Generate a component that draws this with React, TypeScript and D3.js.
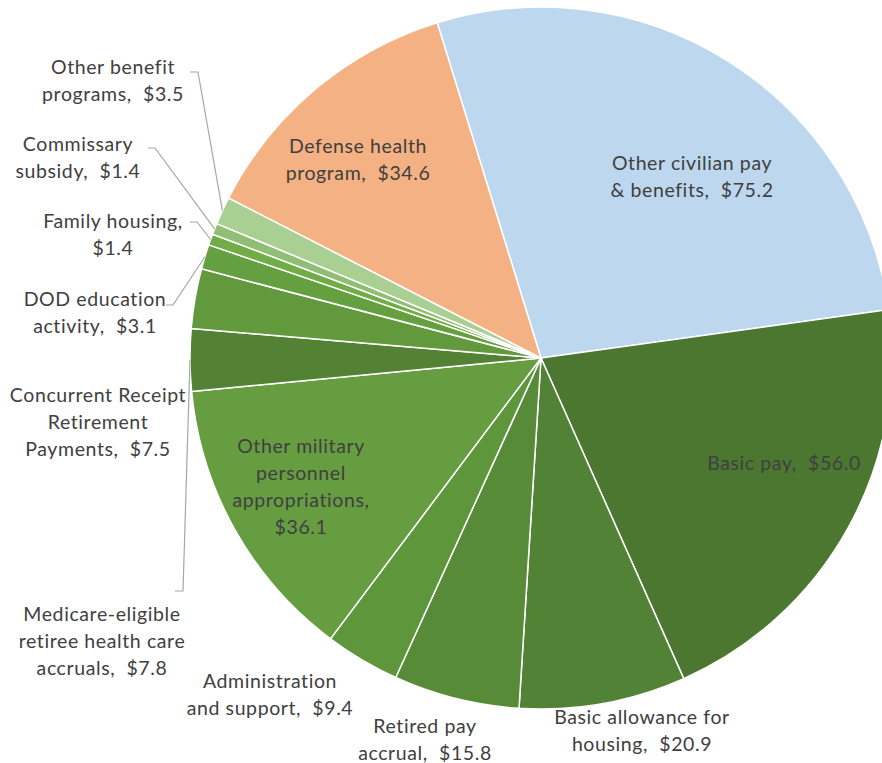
import React from "react";
import * as d3 from "d3";

const categories = [
  "Other civilian pay & benefits",
  "Basic pay",
  "Basic allowance for housing",
  "Retired pay accrual",
  "Administration and support",
  "Other military personnel appropriations",
  "Medicare-eligible retiree health care accruals",
  "Concurrent Receipt Retirement Payments",
  "DOD education activity",
  "Family housing",
  "Commissary subsidy",
  "Other benefit programs",
  "Defense health program",
];
const values = [75.2, 56.0, 20.9, 15.8, 9.4, 36.1, 7.8, 7.5, 3.1, 1.4, 1.4, 3.5, 34.6];
const colors = [
  "#BDD7EE", "#4B7730", "#528236", "#578B38", "#5E963B", "#659D40",
  "#548235", "#62993D", "#64A03F", "#70AD47", "#90BE74", "#A9CF92", "#F4B183",
];
// label line breaks
const labelLines = [
  ["Other civilian pay", "& benefits,  $75.2"],
  ["Basic pay,  $56.0"],
  ["Basic allowance for", "housing,  $20.9"],
  ["Retired pay", "accrual,  $15.8"],
  ["Administration", "and support,  $9.4"],
  ["Other military", "personnel", "appropriations,", "$36.1"],
  ["Medicare-eligible", "retiree health care", "accruals,  $7.8"],
  ["Concurrent Receipt", "Retirement", "Payments,  $7.5"],
  ["DOD education", "activity,  $3.1"],
  ["Family housing,", "$1.4"],
  ["Commissary", "subsidy,  $1.4"],
  ["Other benefit", "programs,  $3.5"],
  ["Defense health", "program,  $34.6"],
];

// layout (label anchor centers: x, first-line baseline) and leader elbows
const labelLayout: { x: number; y: number; elbow?: [number, number][] }[] = [
  { x: 692, y: 170 },
  { x: 784, y: 470 },
  { x: 642, y: 724 },
  { x: 425, y: 733 },
  { x: 270, y: 688 },
  { x: 301, y: 453 },
  { x: 102, y: 621, elbow: [[175, 591], [183, 591]] },
  { x: 98, y: 402 },
  { x: 95, y: 306, elbow: [[166, 305], [173, 305]] },
  { x: 113, y: 228, elbow: [[190, 222], [197, 222]] },
  { x: 78, y: 151, elbow: [[148, 148], [155, 148]] },
  { x: 113, y: 74, elbow: [[190, 72], [198, 72]] },
  { x: 358, y: 153 },
];

const W = 882, H = 763;
const cx = 541, cy = 358, R = 351;
const startAngle = (-17.2 * Math.PI) / 180;

export default function App() {
  const data = values.map((v, i) => ({ v, i }));
  const pie = d3
    .pie<{ v: number; i: number }>()
    .value((d) => d.v)
    .sort(null)
    .startAngle(startAngle)
    .endAngle(startAngle + 2 * Math.PI);
  const arcs = pie(data);
  const arc = d3.arc<d3.PieArcDatum<{ v: number; i: number }>>().innerRadius(0).outerRadius(R);
  const lineGen = d3.line();

  return (
    <svg width={W} height={H} style={{ position: "absolute", left: 0, top: 0 }}>
      <rect width={W} height={H} fill="#fff" />
      <g transform={`translate(${cx},${cy})`}>
        {arcs.map((a) => (
          <path key={a.data.i} d={arc(a) || ""} fill={colors[a.data.i]} stroke="#fff" strokeWidth={1.5} strokeLinejoin="round" />
        ))}
      </g>
      {arcs.map((a) => {
        const L = labelLayout[a.data.i];
        if (!L.elbow) return null;
        const mid = (a.startAngle + a.endAngle) / 2;
        const px = cx + R * Math.sin(mid);
        const py = cy - R * Math.cos(mid);
        const pts: [number, number][] = [...L.elbow, [px, py]];
        return <path key={"l" + a.data.i} d={lineGen(pts) || ""} fill="none" stroke="#A6A6A6" strokeWidth={1.2} />;
      })}
      {labelLines.map((lines, i) => {
        const L = labelLayout[i];
        return (
          <text key={"t" + i} x={L.x} y={L.y} textAnchor="middle" fontFamily="Lato, 'Open Sans', sans-serif" fontSize={19.5} letterSpacing={0.6} fill="#404040">
            {lines.map((ln, j) => (
              <tspan key={j} x={L.x} y={L.y + j * 27} style={{ whiteSpace: "pre" }}>
                {ln}
              </tspan>
            ))}
          </text>
        );
      })}
    </svg>
  );
}
